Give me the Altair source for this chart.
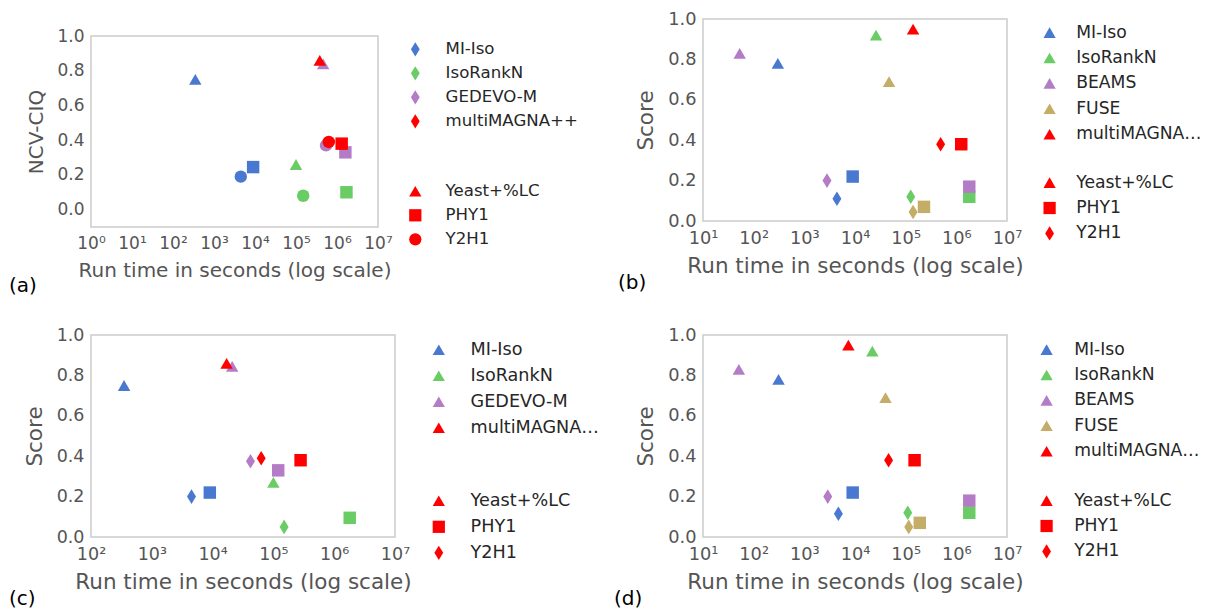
import altair as alt
import pandas as pd

# ---------------- data ----------------
datasets = ["Yeast+%LC", "PHY1", "Y2H1"]

a_methods = ["MI-Iso", "IsoRankN", "GEDEVO-M", "multiMAGNA++"]
a_time = [[350, 9000, 4500], [1.0e5, 1.7e6, 1.5e5], [4.6e5, 1.6e6, 5.4e5], [3.8e5, 1.3e6, 6.3e5]]
a_score = [[0.75, 0.245, 0.19], [0.26, 0.10, 0.08], [0.84, 0.33, 0.37], [0.86, 0.38, 0.39]]

b_methods = ["MI-Iso", "IsoRankN", "BEAMS", "FUSE", "multiMAGNA++"]
b_time = [[300, 9000, 4400], [2.6e4, 1.8e6, 1.26e5], [53, 1.8e6, 2800], [4.7e4, 2.3e5, 1.4e5], [1.4e5, 1.25e6, 4.9e5]]
b_score = [[0.78, 0.22, 0.11], [0.92, 0.12, 0.12], [0.83, 0.17, 0.20], [0.69, 0.07, 0.045], [0.95, 0.38, 0.38]]

c_methods = ["MI-Iso", "IsoRankN", "GEDEVO-M", "multiMAGNA++"]
c_time = [[350, 9000, 4500], [1.0e5, 1.8e6, 1.5e5], [2.1e4, 1.2e5, 4.2e4], [1.7e4, 2.8e5, 6.3e4]]
c_score = [[0.75, 0.22, 0.20], [0.27, 0.095, 0.05], [0.845, 0.33, 0.375], [0.86, 0.38, 0.39]]

d_methods = ["MI-Iso", "IsoRankN", "BEAMS", "FUSE", "multiMAGNA++"]
d_time = [[310, 9000, 4700], [2.2e4, 1.8e6, 1.1e5], [51, 1.8e6, 2900], [4.0e4, 1.9e5, 1.15e5], [7400, 1.5e5, 4.6e4]]
d_score = [[0.78, 0.22, 0.115], [0.92, 0.12, 0.12], [0.83, 0.18, 0.20], [0.69, 0.07, 0.05], [0.95, 0.38, 0.38]]

method_colors = {"MI-Iso": "#4878CF", "IsoRankN": "#6ACC65", "GEDEVO-M": "#B47CC7",
                 "BEAMS": "#B47CC7", "FUSE": "#C4AD66", "multiMAGNA++": "#FF0000"}

x_ticks_all = [1, 10, 100, 1000, 1e4, 1e5, 1e6, 1e7]
y_ticks = [0.0, 0.2, 0.4, 0.6, 0.8, 1.0]

DIAMOND = "M0,-1.17L0.72,0L0,1.17L-0.72,0Z"
FONT = "DejaVu Sans"
GREY = "#555555"
SUP = "'10' + ['\u2070','\u00b9','\u00b2','\u00b3','\u2074','\u2075','\u2076','\u2077'][round(log(datum.value)/LN10)]"


def make_df(methods, times, scores):
    rows = []
    for i, m in enumerate(methods):
        for j, d in enumerate(datasets):
            rows.append({"method": m, "dataset": d, "time": times[i][j], "score": scores[i][j], "ord": i * 3 + j})
    return pd.DataFrame(rows)


def panel(methods, times, scores, xmin, ydom, ytitle, w, h, shapes, legend_symbol,
          leg_x, leg_y1, leg_y2, row_pad, label, label_dx, label_limit,
          tick_fs, title_fs, leg_fs, lab_off):
    df = make_df(methods, times, scores)
    xt = [v for v in x_ticks_all if v >= xmin]
    return alt.Chart(df).mark_point(filled=True, opacity=1, size=155).encode(
        x=alt.X("time:Q",
                scale=alt.Scale(type="log", domain=[xmin, 1e7], nice=False),
                axis=alt.Axis(values=xt, labelExpr=SUP, ticks=False, grid=False, domain=False,
                              labelFontSize=tick_fs, labelColor=GREY, labelPadding=8,
                              labelFlush=False, labelOverlap=False,
                              title="Run time in seconds (log scale)", titleFontSize=title_fs,
                              titleColor=GREY, titleFontWeight="normal", titlePadding=9)),
        y=alt.Y("score:Q",
                scale=alt.Scale(domain=ydom, nice=False, zero=False),
                axis=alt.Axis(values=y_ticks, format=".1f", ticks=False, grid=False, domain=False,
                              labelFontSize=tick_fs, labelColor=GREY, labelPadding=7,
                              labelFlush=False, labelOverlap=False,
                              title=ytitle, titleFontSize=title_fs, titleColor=GREY,
                              titleFontWeight="normal", titlePadding=10)),
        color=alt.Color("method:N",
                        scale=alt.Scale(domain=methods, range=[method_colors[m] for m in methods]),
                        legend=alt.Legend(title=None, orient="none", legendX=leg_x, legendY=leg_y1,
                                          direction="vertical", symbolType=legend_symbol,
                                          symbolSize=150, symbolStrokeWidth=0, symbolOpacity=1,
                                          labelFontSize=leg_fs, labelColor="#262626", labelOffset=lab_off,
                                          rowPadding=row_pad, padding=0, labelLimit=label_limit)),
        shape=alt.Shape("dataset:N",
                        scale=alt.Scale(domain=datasets, range=shapes),
                        legend=alt.Legend(title=None, orient="none", legendX=leg_x, legendY=leg_y2,
                                          direction="vertical", symbolSize=150,
                                          symbolFillColor="#FF0000", symbolStrokeColor="#FF0000",
                                          symbolStrokeWidth=0, symbolOpacity=1,
                                          labelFontSize=leg_fs, labelColor="#262626", labelOffset=lab_off,
                                          rowPadding=row_pad, padding=0)),
        order=alt.Order("ord:Q"),
    ).properties(
        width=w, height=h,
        title=alt.TitleParams(text=label, orient="bottom", anchor="start", frame="group",
                              dx=label_dx, offset=-4,
                              fontSize=20, color="#000000", fontWeight="normal", font=FONT),
    )


A = panel(a_methods, a_time, a_score, 1, [-0.1, 1.0], "NCV-CIQ", 287, 191,
          ["triangle-up", "square", "circle"], DIAMOND, 316, 5, 147, 7, "(a)", -82, 300,
          17, 20, 16.6, 22)
B = panel(b_methods, b_time, b_score, 10, [0, 1.0], "Score", 304, 202,
          ["triangle-up", "square", DIAMOND], "triangle-up", 338, 5, 155, 7.4, "(b)", -85, 127,
          17.8, 21.5, 17.2, 18)
C = panel(c_methods, c_time, c_score, 100, [0, 1.0], "Score", 304, 202,
          ["triangle-up", "square", DIAMOND], "triangle-up", 339, 6, 157, 7, "(c)", -82, 130,
          17.5, 21.5, 17.6, 23)
D = panel(d_methods, d_time, d_score, 10, [0, 1.0], "Score", 304, 202,
          ["triangle-up", "square", DIAMOND], "triangle-up", 335, 6, 157, 7.4, "(d)", -89, 127,
          17.8, 21.5, 17.2, 19)

spacer = alt.Chart(pd.DataFrame({"v": [0]})).mark_point(opacity=0).encode(
    x=alt.X("v:Q", axis=None), y=alt.Y("v:Q", axis=None)
).properties(width=1, height=17, view=alt.ViewBackground(stroke="transparent"))


def ind(ch):
    return ch.resolve_scale(color="independent", shape="independent", x="independent",
                            y="independent").resolve_legend(color="independent", shape="independent")


top1 = ind(alt.vconcat(spacer, A, spacing=0, bounds="flush"))
col1 = ind(alt.vconcat(top1, C, spacing=316, bounds="flush"))
col2 = ind(alt.vconcat(B, D, spacing=114, bounds="flush"))
chart = ind(alt.hconcat(col1, col2, spacing=612, bounds="flush")).properties(
    padding={"left": 0, "top": 1, "right": 0, "bottom": 0}
).configure(font=FONT).configure_view(stroke="#CCCCCC", strokeWidth=1.5)

chart.save("out.html", embed_options={"renderer": "svg", "actions": False})
